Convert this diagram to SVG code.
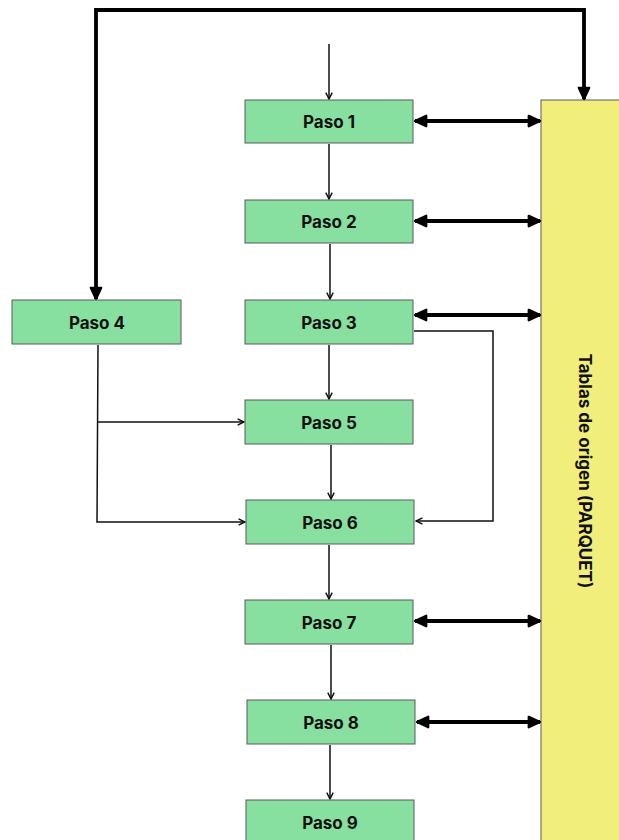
<svg xmlns="http://www.w3.org/2000/svg" width="619" height="840" viewBox="0 0 619 840">
<defs>
<style>
.box{fill:#87dfa0;stroke:#5a5a5a;stroke-width:1}
.lbl{font-family:Inter,"Liberation Sans",sans-serif;font-weight:700;font-size:17px;fill:#111;text-anchor:middle;dominant-baseline:central}
.thin{fill:none;stroke:#111;stroke-width:1.5}
.thick{fill:none;stroke:#000;stroke-width:3.8}
</style>
<marker id="a" viewBox="0 0 10 10" refX="9" refY="5" markerWidth="8" markerHeight="8" markerUnits="userSpaceOnUse" orient="auto"><path d="M1,1 L9,5 L1,9" fill="none" stroke="#111" stroke-width="1.8"/></marker>
<marker id="b" viewBox="0 0 10 10" refX="9" refY="5" markerWidth="15" markerHeight="15" markerUnits="userSpaceOnUse" orient="auto-start-reverse"><path d="M1.5,1.5 L9,5 L1.5,8.5 Z" fill="#000" stroke="#000" stroke-width="1.5" stroke-linejoin="round"/></marker>
</defs>
<rect width="619" height="840" fill="#fff"/>
<g id="tablas">
<rect x="541" y="100" width="82" height="745" fill="#f2ee7b" stroke="#5a5a5a" stroke-width="1"/>
<text class="lbl" transform="translate(585,471) rotate(90)">Tablas de origen (PARQUET)</text>
</g>
<g id="connectors">
<path class="thick" d="M96,299 V10 H584 V99" marker-start="url(#b)" marker-end="url(#b)"/>
<line class="thick" x1="415" y1="121" x2="540" y2="121" marker-start="url(#b)" marker-end="url(#b)"/>
<line class="thick" x1="415" y1="221" x2="540" y2="221" marker-start="url(#b)" marker-end="url(#b)"/>
<line class="thick" x1="415" y1="315" x2="540" y2="315" marker-start="url(#b)" marker-end="url(#b)"/>
<line class="thick" x1="415" y1="621" x2="540" y2="621" marker-start="url(#b)" marker-end="url(#b)"/>
<line class="thick" x1="417" y1="722" x2="540" y2="722" marker-start="url(#b)" marker-end="url(#b)"/>
<line class="thin" x1="329" y1="44" x2="329" y2="99" marker-end="url(#a)"/>
<line class="thin" x1="329" y1="144" x2="329" y2="199" marker-end="url(#a)"/>
<line class="thin" x1="330" y1="244" x2="330" y2="299" marker-end="url(#a)"/>
<line class="thin" x1="329" y1="345" x2="329" y2="399" marker-end="url(#a)"/>
<line class="thin" x1="331" y1="445" x2="331" y2="499" marker-end="url(#a)"/>
<line class="thin" x1="329" y1="545" x2="329" y2="599" marker-end="url(#a)"/>
<line class="thin" x1="331" y1="645" x2="331" y2="699" marker-end="url(#a)"/>
<line class="thin" x1="330" y1="745" x2="330" y2="799" marker-end="url(#a)"/>
<path class="thin" d="M414,331 H493 V521 H416" marker-end="url(#a)"/>
<path class="thin" d="M98,345 L97,522 H245" marker-end="url(#a)"/>
<path class="thin" d="M97,422 H244" marker-end="url(#a)"/>
</g>
<g id="paso1"><rect class="box" x="245" y="100" width="168" height="43"/><text class="lbl" x="329" y="122">Paso 1</text></g>
<g id="paso2"><rect class="box" x="245" y="200" width="168" height="43"/><text class="lbl" x="329" y="222">Paso 2</text></g>
<g id="paso3"><rect class="box" x="245" y="300" width="168" height="44"/><text class="lbl" x="329" y="323">Paso 3</text></g>
<g id="paso4"><rect class="box" x="12" y="300" width="169" height="44"/><text class="lbl" x="97" y="323">Paso 4</text></g>
<g id="paso5"><rect class="box" x="245" y="400" width="168" height="44"/><text class="lbl" x="329" y="423">Paso 5</text></g>
<g id="paso6"><rect class="box" x="246" y="500" width="168" height="44"/><text class="lbl" x="330" y="523">Paso 6</text></g>
<g id="paso7"><rect class="box" x="245" y="600" width="168" height="44"/><text class="lbl" x="329" y="623">Paso 7</text></g>
<g id="paso8"><rect class="box" x="247" y="700" width="168" height="44"/><text class="lbl" x="331" y="723">Paso 8</text></g>
<g id="paso9"><rect class="box" x="246" y="800" width="168" height="44"/><text class="lbl" x="330" y="823">Paso 9</text></g>
</svg>
